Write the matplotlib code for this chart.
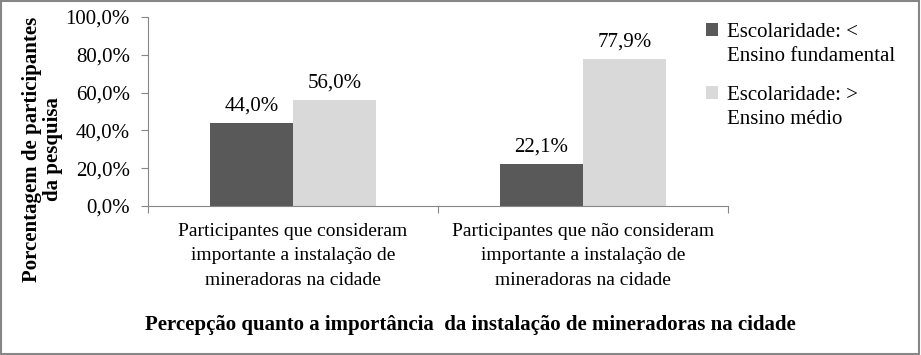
import numpy as np
import matplotlib.pyplot as plt
from matplotlib.patches import Rectangle, Patch

categories = [
    "Participantes que consideram\nimportante a instalação de\nmineradoras na cidade",
    "Participantes que não consideram\nimportante a instalação de\nmineradoras na cidade",
]
series_names = ["Escolaridade: <\nEnsino fundamental", "Escolaridade: >\nEnsino médio"]
fundamental = [44.0, 22.1]
medio = [56.0, 77.9]
y_ticks = [0, 20, 40, 60, 80, 100]

plt.rcParams['font.family'] = ['Liberation Serif', 'DejaVu Serif']

dark = "#595959"
light = "#d9d9d9"
axis_gray = "#868686"
fs = 15

fig = plt.figure(figsize=(9.21, 3.55), dpi=100)
ax = fig.add_axes([148 / 921, 1 - 206 / 355, 580 / 921, 189 / 355])

x = np.arange(len(categories))
w = 0.286
b1 = ax.bar(x - w / 2, fundamental, w, color=dark, label=series_names[0])
b2 = ax.bar(x + w / 2, medio, w, color=light, label=series_names[1])

for bars, vals in ((b1, fundamental), (b2, medio)):
    for r, v in zip(bars, vals):
        ax.text(r.get_x() + r.get_width() / 2, v + 4, f"{v:.1f}%".replace(".", ","),
                ha="center", va="bottom", fontsize=fs)

ax.set_xlim(-0.5, 1.5)
ax.set_ylim(0, 100)
ax.set_yticks(y_ticks)
ax.set_yticklabels([f"{t:.1f}%".replace(".", ",") for t in y_ticks], fontsize=fs)
ax.set_xticks([-0.5, 0.5, 1.5])
ax.set_xticklabels([])
ax.set_xticks(x, minor=True)
ax.set_xticklabels(categories, minor=True, fontsize=14)
for t in ax.get_xticklabels(minor=True):
    t.set_linespacing(1.6)
ax.tick_params(axis="x", which="minor", length=0, pad=12)
ax.tick_params(axis="x", which="major", length=5, color=axis_gray)
ax.tick_params(axis="y", length=5, color=axis_gray, pad=8)

for s in ("top", "right"):
    ax.spines[s].set_visible(False)
for s in ("left", "bottom"):
    ax.spines[s].set_color(axis_gray)

ax.set_ylabel("Porcentagem de participantes\nda pesquisa", fontsize=fs,
              fontweight="bold", linespacing=1.1)
ax.yaxis.set_label_coords(-0.146, 0.3)

fig.text(470 / 921, 1 - 325 / 355, "Percepção quanto a importância  da instalação de mineradoras na cidade",
         ha="center", va="center", fontsize=fs, fontweight="bold")

# legend: square beside the first line of each two-line label
blank = Patch(visible=False)
for bars, name, top in ((b1, series_names[0], 4), (b2, series_names[1], 67)):
    lines = name.split("\n")
    leg = fig.legend(handles=[bars, blank], labels=lines, loc="upper left",
                     bbox_to_anchor=(687 / 921, 1 - top / 355), frameon=False,
                     handlelength=0.6, handleheight=0.6, handletextpad=0.4,
                     labelspacing=0.25, prop={"size": fs})

fig.patches.append(Rectangle((0.001, 0.002), 0.997, 0.995, transform=fig.transFigure,
                             fill=False, edgecolor=axis_gray, linewidth=1.5))

fig.savefig("out.png", dpi=100)
